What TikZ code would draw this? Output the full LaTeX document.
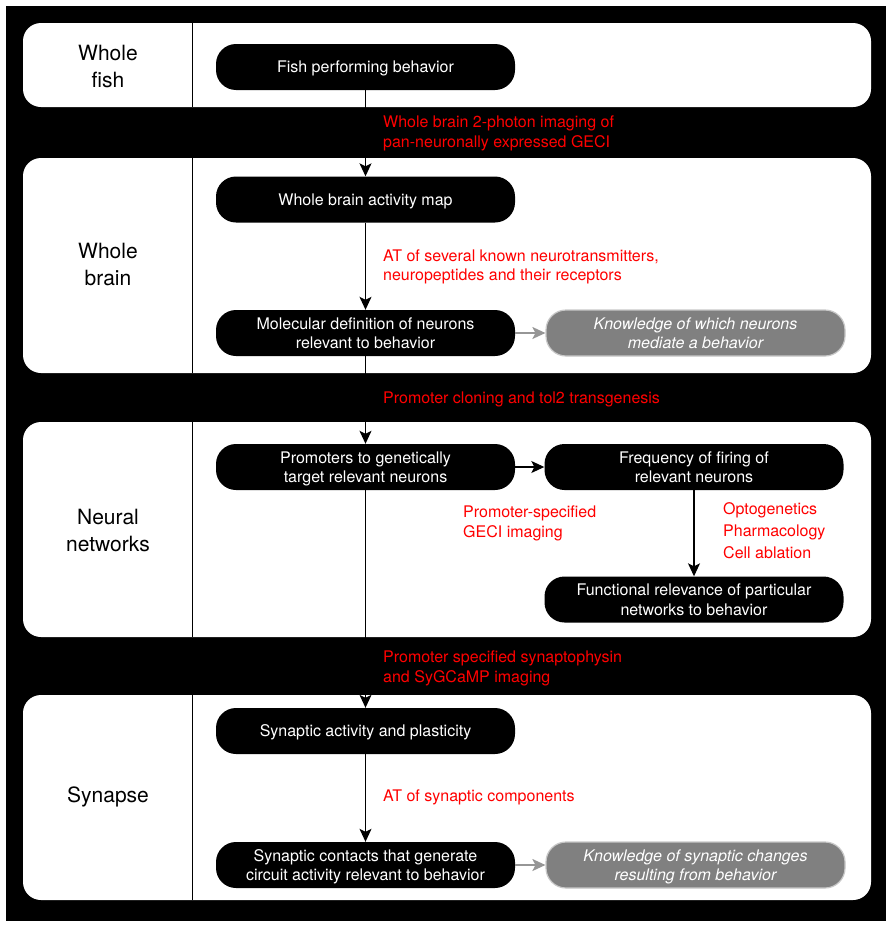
\documentclass[tikz,border=0pt]{standalone}
\usepackage{fontspec}
\setmainfont{TeX Gyre Heros}
\usetikzlibrary{arrows.meta}
\definecolor{geciRed}{RGB}{255,0,0}
\definecolor{knowGray}{RGB}{128,128,128}
\definecolor{knowEdge}{RGB}{200,200,200}
\definecolor{linkGray}{RGB}{150,150,150}
\tikzset{
	panel/.style={fill=white, rounded corners=18pt},
	event/.style={fill=black, text=white, rounded corners=20pt, minimum width=299pt, minimum height=46pt, align=center, inner sep=0pt, text depth=0pt, font=\fontsize{16}{19.5}\selectfont},
	outcome/.style={event, fill=knowGray, draw=knowEdge, line width=1.2pt, font=\fontsize{16}{19.5}\selectfont\itshape},
	method/.style={text=geciRed, anchor=west, align=left, inner sep=0pt, text depth=0pt, font=\fontsize{16}{19.5}\selectfont},
	level/.style={align=center, font=\fontsize{21}{27}\selectfont},
	flow/.style={-{Stealth[length=13pt,width=12pt,inset=3pt]}, line width=1.3pt},
	gflow/.style={flow, draw=linkGray, color=linkGray},
}
\begin{document}
\begin{tikzpicture}[x=1pt, y=-1pt]
	\fill[white] (0,0) rectangle (892,929);
	\fill[black] (6,6) rectangle (886,921);
	% panels and dividers
	\fill[panel] (23,23) rectangle (871,107);
	\fill[panel] (23,158) rectangle (871,373);
	\fill[panel] (23,422) rectangle (871,637);
	\fill[panel] (23,695) rectangle (871,900);
	\foreach \t/\b in {23/107, 158/373, 422/637, 695/900}
		\draw[line width=0.8pt] (192,\t) -- (192,\b);
	% levels
	\node (Lfish) at (108,67)  [level] {Whole\\fish};
	\node (Lbrain) at (108,264) [level] {Whole\\brain};
	\node (Lnet) at (108,530) [level] {Neural\\networks};
	\node (Lsyn) at (108,797) [level] {Synapse};
	% steps
	\node (fish) at (365.5,67)    [event] {Fish performing behavior};
	\node (map) at (365.5,199.5)  [event] {Whole brain activity map};
	\node (mol) at (365.5,333)    [event] {Molecular definition of neurons\\relevant to behavior};
	\node (whichK) at (695.5,333) [outcome] {Knowledge of which neurons\\mediate a behavior};
	\node (prom) at (365.5,467)   [event] {Promoters to genetically\\target relevant neurons};
	\node (freq) at (694,467)     [event] {Frequency of firing of\\relevant neurons};
	\node (func) at (694,599.5)   [event] {Functional relevance of particular\\networks to behavior};
	\node (synact) at (365.5,731) [event] {Synaptic activity and plasticity};
	\node (syncon) at (365.5,865) [event] {Synaptic contacts that generate\\circuit activity relevant to behavior};
	\node (changeK) at (695.5,865) [outcome] {Knowledge of synaptic changes\\resulting from behavior};
	% methods
	\node (m1) at (383,131.5) [method] {Whole brain 2-photon imaging of\\pan-neuronally expressed GECI};
	\node (m2) at (383,265)   [method] {AT of several known neurotransmitters,\\neuropeptides and their receptors};
	\node (m3) at (383,398)   [method] {Promoter cloning and tol2 transgenesis};
	\node (m4) at (463,521.5) [method] {Promoter-specified\\GECI imaging};
	\node (m5) at (723,530.5) [method, font=\fontsize{16}{22}\selectfont] {Optogenetics\\Pharmacology\\Cell ablation};
	\node (m6) at (383,666.5) [method] {Promoter specified synaptophysin\\and SyGCaMP imaging};
	\node (m7) at (383,796)   [method] {AT of synaptic components};
	% connectors
	\draw[flow] (fish) -- (map);
	\draw[flow] (map) -- (mol);
	\draw[flow] (mol) -- (prom);
	\draw[gflow] (mol) -- (whichK);
	\draw[flow] (prom) -- (freq);
	\draw[flow] (freq) -- (func);
	\draw[flow] (prom) -- (synact);
	\draw[flow] (synact) -- (syncon);
	\draw[gflow] (syncon) -- (changeK);
\end{tikzpicture}
\end{document}
